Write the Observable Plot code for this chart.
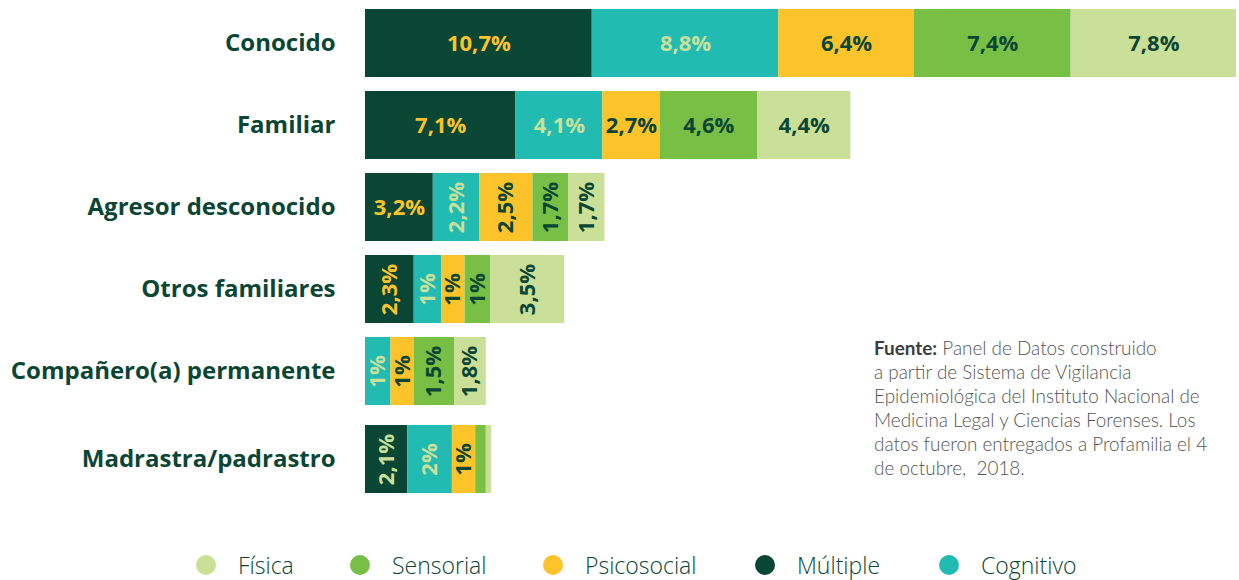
<!DOCTYPE html>
<html>
<head>
<meta charset="utf-8">
<script src="https://cdn.jsdelivr.net/npm/d3@7"></script>
<script src="https://cdn.jsdelivr.net/npm/@observablehq/plot@0.6"></script>
<style>
  body { margin: 0; background: #fff; }
  #wrap { position: relative; width: 1239px; height: 580px; font-family: Lato, "Open Sans", sans-serif; }
  #chart svg { display: block; }
  #chart g[aria-label="y-axis tick label"] text { font-size: 24px; font-weight: 700; fill: #0b4634; font-family: "Open Sans", sans-serif; }
  #note { position: absolute; left: 874px; top: 336px; width: 380px; font-size: 18.9px; line-height: 24px; color: #555; font-family: Lato, sans-serif; font-weight: 300; }
  #note b { font-weight: 700; color: #3d3d3d; }
  .leg { position: absolute; top: 551px; height: 28px; display: flex; align-items: center; font-size: 23px; color: #0b4634; font-family: "Open Sans", sans-serif; font-weight: 300; }
  .leg i { display: inline-block; width: 20px; height: 20px; border-radius: 50%; margin-right: 22px; }
</style>
</head>
<body>
<div id="wrap">
  <div id="chart"></div>
  <div id="note"></div>
  <div id="legend"></div>
</div>
<script>
const categories = ["Conocido", "Familiar", "Agresor desconocido", "Otros familiares", "Compañero(a) permanente", "Madrastra/padrastro"];
const series = ["Múltiple", "Cognitivo", "Psicosocial", "Sensorial", "Física"];
const multipleValues    = [10.7, 7.1, 3.2, 2.3, 0,   2.0];
const cognitivoValues   = [8.8,  4.1, 2.2, 1.3, 1.2, 2.1];
const psicosocialValues = [6.4,  2.7, 2.5, 1.1, 1.1, 1.1];
const sensorialValues   = [7.4,  4.6, 1.7, 1.2, 1.9, 0.5];
const fisicaValues      = [7.8,  4.4, 1.7, 3.5, 1.5, 0.25];
const multipleLabels    = ["10,7%", "7,1%", "3,2%", "2,3%", "",     "2,1%"];
const cognitivoLabels   = ["8,8%",  "4,1%", "2,2%", "1%",   "1%",   "2%"];
const psicosocialLabels = ["6,4%",  "2,7%", "2,5%", "1%",   "1%",   "1%"];
const sensorialLabels   = ["7,4%",  "4,6%", "1,7%", "1%",   "1,5%", ""];
const fisicaLabels      = ["7,8%",  "4,4%", "1,7%", "3,5%", "1,8%", ""];
const legendOrder = ["Física", "Sensorial", "Psicosocial", "Múltiple", "Cognitivo"];
const sourceBold = "Fuente:";
const sourceLines = [
  " Panel de Datos construido",
  "a partir de Sistema de Vigilancia",
  "Epidemiológica del Instituto Nacional de",
  "Medicina Legal y Ciencias Forenses. Los",
  "datos fueron entregados a Profamilia el 4",
  "de octubre,&nbsp; 2018."
];

const colors = {"Múltiple": "#0a4634", "Cognitivo": "#22bbb2", "Psicosocial": "#fdc32b", "Sensorial": "#77bf45", "Física": "#cadf97"};
const DARK = "#0b4634", YELLOW = "#fdc32b", PALE = "#c9e09a";

const valuesBySeries = [multipleValues, cognitivoValues, psicosocialValues, sensorialValues, fisicaValues];
const labelsBySeries = [multipleLabels, cognitivoLabels, psicosocialLabels, sensorialLabels, fisicaLabels];
const rows = [];
categories.forEach((c, i) => series.forEach((s, j) => rows.push({cat: c, ci: i, s, value: valuesBySeries[j][i], label: labelsBySeries[j][i]})));

const LAST = categories.length - 1;
const LAST_DY = 6; // the last row sits slightly lower in the reference
const upper = rows.filter(d => d.ci !== LAST);
const lower = rows.filter(d => d.ci === LAST);

const isHorizontal = d => d.ci < 2 || (d.ci === 2 && d.s === "Múltiple");
const labelColor = d => d.s === "Múltiple" ? (d.ci === LAST ? PALE : YELLOW) : d.s === "Cognitivo" ? PALE : DARK;

function labels(data, dy, horizontal, color) {
  return Plot.text(data, Plot.stackX({
    x: "value", y: "cat", z: "s",
    text: d => (isHorizontal(d) === horizontal && labelColor(d) === color) ? d.label : "",
    rotate: horizontal ? 0 : -90,
    dy,
    fill: color,
    fontSize: 22,
    fontWeight: 700,
    fontFamily: "Open Sans, sans-serif"
  }));
}
function allLabels(data, dy) {
  return [true, false].flatMap(h => [YELLOW, PALE, DARK].map(c => labels(data, dy, h, c)));
}

const chart = Plot.plot({
  width: 1239,
  height: 520,
  marginLeft: 365,
  marginRight: 3,
  marginTop: 9,
  marginBottom: 33,
  x: {domain: [0, 41.1], axis: null},
  y: {domain: categories, paddingInner: 14 / 82, paddingOuter: 0, label: null, axis: null},
  color: {domain: series, range: series.map(s => colors[s])},
  marks: [
    Plot.axisY({ticks: categories.slice(0, LAST), tickSize: 0, tickPadding: 30, label: null}),
    Plot.axisY({ticks: [categories[LAST]], tickSize: 0, tickPadding: 30, label: null, dy: LAST_DY}),
    Plot.barX(upper, Plot.stackX({x: "value", y: "cat", z: "s", fill: "s"})),
    Plot.barX(lower, Plot.stackX({x: "value", y: "cat", z: "s", fill: "s", dy: LAST_DY})),
    ...allLabels(upper, 0),
    ...allLabels(lower, LAST_DY)
  ]
});
document.getElementById("chart").appendChild(chart);

const note = document.getElementById("note");
note.innerHTML = "<b>" + sourceBold + "</b>" + sourceLines.join("<br>");

const legendX = {"Física": 196, "Sensorial": 350, "Psicosocial": 543, "Múltiple": 755, "Cognitivo": 939};
const legend = document.getElementById("legend");
legendOrder.forEach(s => {
  const el = document.createElement("div");
  el.className = "leg";
  el.style.left = legendX[s] + "px";
  el.innerHTML = `<i style="background:${colors[s]}"></i><span>${s}</span>`;
  legend.appendChild(el);
});
</script>
</body>
</html>
